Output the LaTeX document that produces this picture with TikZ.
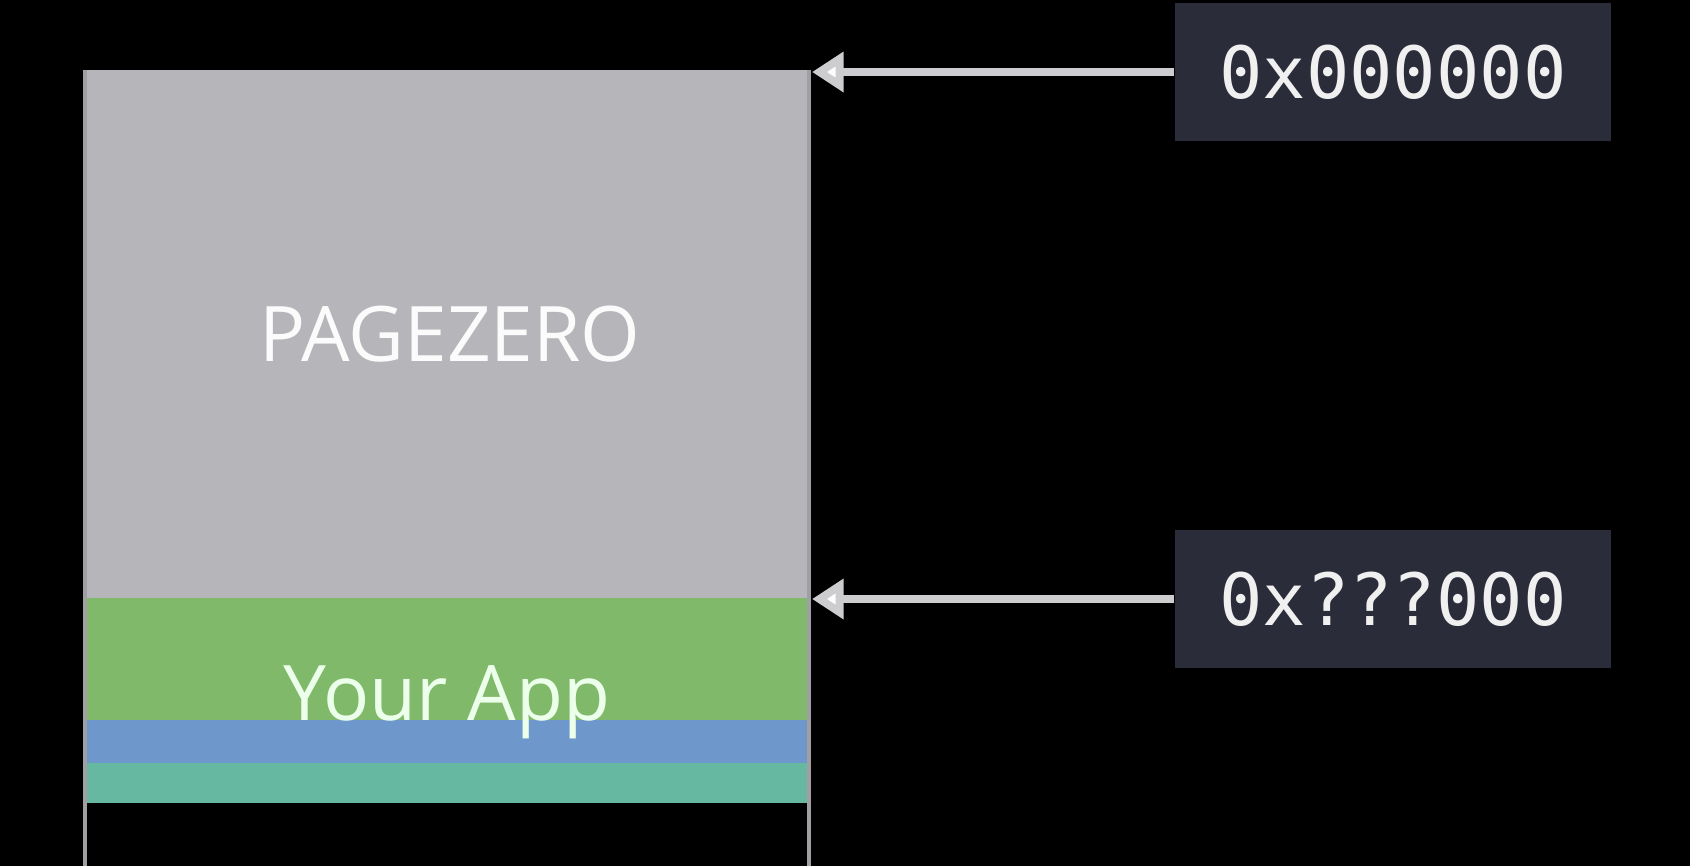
\documentclass[tikz,border=0pt]{standalone}
\usepackage{fontspec}
\setmainfont{Open Sans}
\newfontfamily\codefont{DejaVu Sans Mono}
\usetikzlibrary{arrows.meta,positioning}

\definecolor{zerogray}{RGB}{181,181,186}
\definecolor{appgreen}{RGB}{128,185,106}
\definecolor{libblue}{RGB}{110,152,204}
\definecolor{libteal}{RGB}{102,184,160}
\definecolor{addrnavy}{RGB}{43,44,58}
\definecolor{pointergray}{RGB}{205,205,208}
\definecolor{edgegray}{RGB}{160,160,164}

\tikzset{
  addrbox/.style={fill=addrnavy, text=white!94!black, inner sep=0pt,
    minimum width=4.36cm, minimum height=1.38cm,
    font=\codefont\fontsize{20.5}{24}\selectfont},
  pointer/.style={draw=pointergray, line width=2.3pt,
    -{Triangle[length=9pt,width=11pt,fill=white!96!pointergray]}},
  segname/.style={anchor=base, font=\fontsize{21.8}{26}\selectfont}
}

\begin{document}
\begin{tikzpicture}[x=0.01cm,y=-0.01cm]
\useasboundingbox (0,0) rectangle (1690,866);
\fill[black] (0,0) rectangle (1690,866);

% memory segments
\fill[zerogray] (84,70) rectangle (810,598);
\fill[appgreen] (84,598) rectangle (810,720);
\fill[libblue] (84,720) rectangle (810,763);
\fill[libteal] (84,763) rectangle (810,803);
\draw[edgegray, line width=1pt] (85,70) -- (85,866);
\draw[edgegray, line width=1pt] (809,70) -- (809,866);

\node[segname, text=white!95!zerogray] (pagezero) at (450,361) {PAGEZERO};
\node[segname, text=green!8!white] (yourapp) at (447,720) {Your App};

% addresses
\coordinate (zerotop) at (812,72);
\coordinate (apptop) at (812,599);
\node[addrbox] (addrzero) at (1393,72) {0x000000};
\node[addrbox] (addrapp) at (1393,599) {0x???000};

\draw[pointer] (addrzero.west) -- (zerotop);
\draw[pointer] (addrapp.west) -- (apptop);
\end{tikzpicture}
\end{document}
